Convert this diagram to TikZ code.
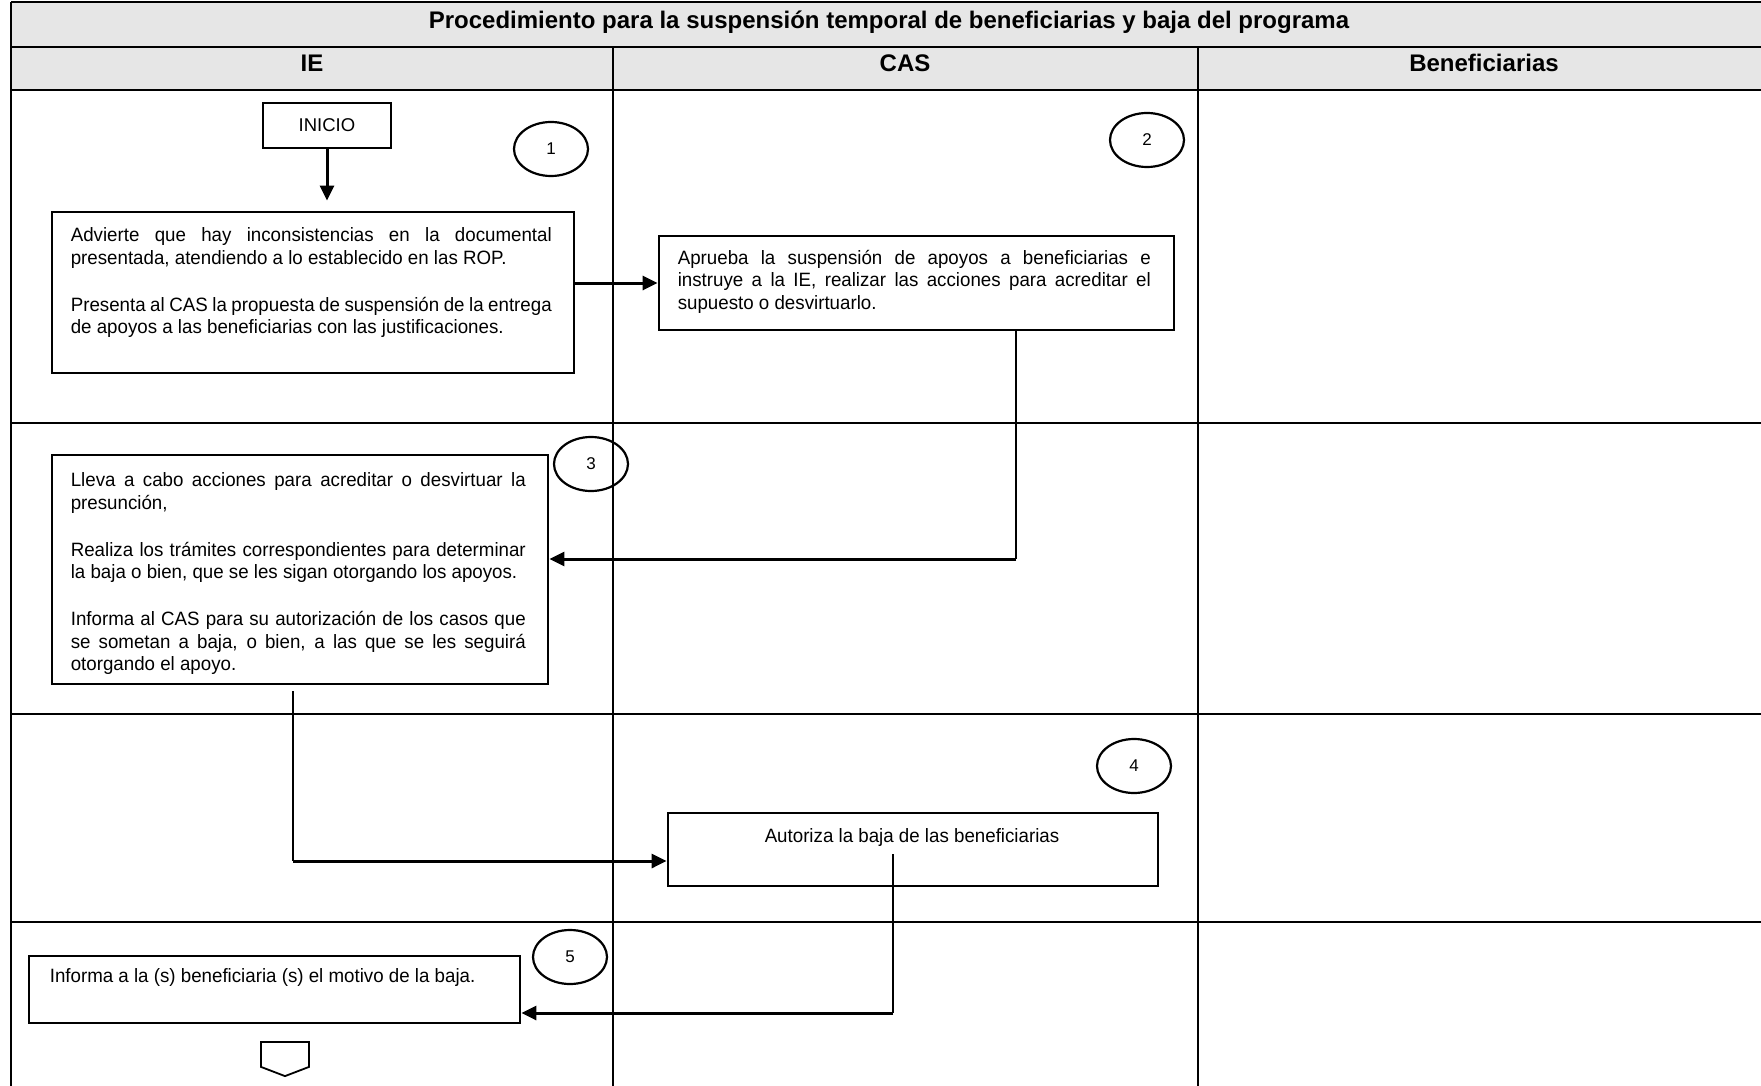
\documentclass[tikz,border=0pt]{standalone}
\usepackage{fontspec}
\setmainfont{Liberation Sans}
\newfontfamily\flowsans[FakeStretch=0.97]{Liberation Sans}
\usetikzlibrary{arrows.meta,shapes.geometric,shapes.symbols}

\newcommand{\flowbody}{\flowsans\fontsize{19.3}{22.5}\selectfont\hyphenpenalty=10000 }

\begin{document}
\begin{tikzpicture}[x=1pt, y=-1pt, font=\flowbody]

\definecolor{flowink}{HTML}{000000}
\definecolor{flowhead}{HTML}{E6E6E6}

\tikzset{
  lanerule/.style={draw=flowink, line width=1.3pt},
  lanelabel/.style={font=\bfseries\fontsize{24}{28}\selectfont, inner sep=0pt},
  activity/.style={
    rectangle, draw=flowink, fill=white, line width=2.8pt, inner sep=0pt
  },
  activitytext/.style={anchor=north west, align=justify, inner sep=0pt},
  stepno/.style={
    ellipse, draw=flowink, line width=2.2pt, minimum width=74pt,
    minimum height=54pt, inner sep=0pt, font=\fontsize{17}{19}\selectfont
  },
  flowedge/.style={
    draw=flowink, line width=3pt, -{Triangle[length=15pt,width=14pt]}
  },
  feededge/.style={draw=flowink, line width=1.1pt}
}

\useasboundingbox (0,0) rectangle (1761,1086);

% Swimlane grid: title bar, lane headers, one band per step group.
\fill[flowhead] (11,2) rectangle (1761,90);
\foreach \rowy in {2,47,90,423,714,922}
  \draw[lanerule] (11,\rowy) -- (1761,\rowy);
\draw[lanerule] (11,2) -- (11,1086);
\foreach \colx in {613,1198}
  \draw[lanerule] (\colx,47) -- (\colx,1086);

\node[lanelabel] (title) at (889,22)
  {Procedimiento para la suspensión temporal de beneficiarias y baja del programa};
\foreach \lanekey/\lanex/\lanetext in {ie/312/IE, cas/905/CAS, ben/1484/Beneficiarias}
  \node[lanelabel] (lane\lanekey) at (\lanex,63) {\lanetext};

% Start.
\node[activity, minimum width=128pt, minimum height=45pt] (inicio) at (327,125.5) {};
\node[inner sep=0pt, font=\fontsize{18.5}{21}\selectfont] (inicioT) at (inicio.center) {INICIO};

% Step 1 (IE).
\node[activity, minimum width=522pt, minimum height=161pt] (b1) at (313,292.5) {};
\node[activitytext, text width=481pt] (t1) at ([shift={(20,17)}]b1.north west)
  {Advierte que hay inconsistencias en la documental\linebreak
   presentada, atendiendo a lo establecido en las ROP.\\[24.5pt]
   Presenta al CAS la propuesta de suspensión de la entrega\linebreak
   de apoyos a las beneficiarias con las justificaciones.};

% Step 2 (CAS).
\node[activity, minimum width=515pt, minimum height=94pt] (b2) at (916.5,283) {};
\node[activitytext, text width=473pt] (t2) at ([shift={(20,15)}]b2.north west)
  {Aprueba la suspensión de apoyos a beneficiarias e\linebreak
   instruye a la IE, realizar las acciones para acreditar el\linebreak
   supuesto o desvirtuarlo.};

% Step 3 (IE).
\node[activity, minimum width=496pt, minimum height=229pt] (b3) at (300,569.5) {};
\node[activitytext, text width=455pt] (t3) at ([shift={(20,19)}]b3.north west)
  {Lleva a cabo acciones para acreditar o desvirtuar la\linebreak
   presunción,\\[24.5pt]
   Realiza los trámites correspondientes para determinar\linebreak
   la baja o bien, que se les sigan otorgando los apoyos.\\[24.5pt]
   Informa al CAS para su autorización de los casos que\linebreak
   se sometan a baja, o bien, a las que se les seguirá\linebreak
   otorgando el apoyo.};

% Step 4 (CAS).
\node[activity, minimum width=490pt, minimum height=73pt] (b4) at (913,849.5) {};
\node[inner sep=0pt] (t4) at (912,838) {Autoriza la baja de las beneficiarias};

% Step 5 (IE).
\node[activity, minimum width=491pt, minimum height=67pt] (b5) at (274.5,989.5) {};
\node[activitytext] (t5) at ([shift={(22,14)}]b5.north west)
  {Informa a la (s) beneficiaria (s) el motivo de la baja.};

% Off-page end mark.
\node[signal, signal to=south, signal pointer angle=138, draw=flowink,
  line width=1.8pt, minimum width=48pt, minimum height=25pt, inner sep=0pt,
  anchor=north] (fin) at (285,1041) {};

% Step numbers.
\foreach \stepkey/\stepx/\stepy in {1/551/149, 2/1147/140, 3/591/464, 4/1134/766, 5/570/957}
  \node[stepno] (n\stepkey) at (\stepx,\stepy) {\stepkey};

% Hand-offs. Vertical drops are thin, the horizontal runs carry the head.
\coordinate (k23) at (1016,559);
\coordinate (k34) at (293,861);
\coordinate (k45) at (893,1013);
\coordinate (s4) at (893,854);

\draw[flowedge, shorten >=10pt] (inicio.south) -- (inicio.south |- b1.north);
\draw[flowedge] (b1.east |- b2.west) -- (b2.west);
\draw[feededge] (b2.south -| k23) -- (k23);
\draw[flowedge] (k23) -- (b3.east |- k23);
\draw[feededge] ([yshift=-6pt]b3.south -| k34) -- (k34);
\draw[flowedge] (k34) -- (b4.west |- k34);
\draw[feededge] (s4) -- (k45);
\draw[flowedge] (k45) -- (b5.east |- k45);

\end{tikzpicture}
\end{document}
